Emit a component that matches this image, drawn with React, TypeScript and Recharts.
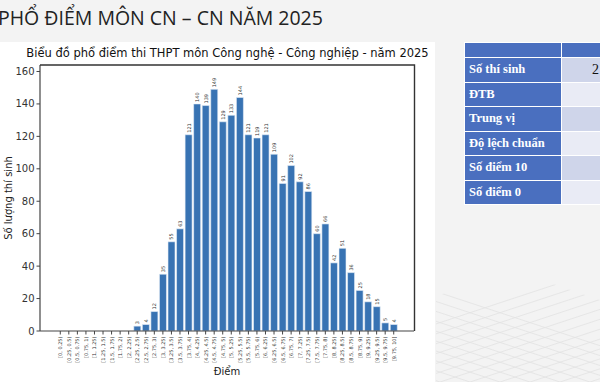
import React from 'react';
import { BarChart, Bar, XAxis, YAxis, LabelList } from 'recharts';

const binLabels = [
  '[0, 0.25)', '[0.25, 0.5)', '[0.5, 0.75)', '[0.75, 1)', '[1, 1.25)', '[1.25, 1.5)', '[1.5, 1.75)', '[1.75, 2)',
  '[2, 2.25)', '[2.25, 2.5)', '[2.5, 2.75)', '[2.75, 3)', '[3, 3.25)', '[3.25, 3.5)', '[3.5, 3.75)', '[3.75, 4)',
  '[4, 4.25)', '[4.25, 4.5)', '[4.5, 4.75)', '[4.75, 5)', '[5, 5.25)', '[5.25, 5.5)', '[5.5, 5.75)', '[5.75, 6)',
  '[6, 6.25)', '[6.25, 6.5)', '[6.5, 6.75)', '[6.75, 7)', '[7, 7.25)', '[7.25, 7.5)', '[7.5, 7.75)', '[7.75, 8)',
  '[8, 8.25)', '[8.25, 8.5)', '[8.5, 8.75)', '[8.75, 9)', '[9, 9.25)', '[9.25, 9.5)', '[9.5, 9.75)', '[9.75, 10]',
];

const counts = [
  0, 0, 0, 0, 0, 0, 0, 0,
  0, 3, 4, 12, 35, 55, 63, 121,
  140, 139, 149, 129, 133, 144, 121, 119,
  121, 109, 91, 102, 92, 86, 60, 66,
  42, 51, 36, 25, 18, 15, 5, 4,
];

const yTicks = [0, 20, 40, 60, 80, 100, 120, 140, 160];

const tableRows = ['Số thí sinh', 'ĐTB', 'Trung vị', 'Độ lệch chuẩn', 'Số điểm 10', 'Số điểm 0'];
const tableValues = ['2', '', '', '', '', ''];

const pageTitle = 'PHỔ ĐIỂM MÔN CN – CN NĂM 2025';
const chartTitle = 'Biểu đồ phổ điểm thi THPT môn Công nghệ - Công nghiệp - năm 2025';
const xLabel = 'Điểm';
const yLabel = 'Số lượng thí sinh';

const data = binLabels.map((b, i) => ({ bin: b, count: counts[i] }));

const FONT = '"DejaVu Sans", sans-serif';

const XTick = (props: any) => {
  const { x, y, payload } = props;
  return (
    <text
      x={x}
      y={y}
      transform={`rotate(-90, ${x}, ${y})`}
      textAnchor="end"
      dominantBaseline="central"
      fontSize={5}
      fontFamily={FONT}
      fill="#333"
    >
      {payload.value}
    </text>
  );
};

const ValueLabel = (props: any) => {
  const { x, y, width, value } = props;
  const cx = x + width / 2;
  const cy = y - 2;
  return (
    <text
      x={cx}
      y={cy}
      transform={`rotate(-90, ${cx}, ${cy})`}
      textAnchor="start"
      dominantBaseline="central"
      fontSize={5}
      fontFamily={FONT}
      fill="#333"
    >
      {value}
    </text>
  );
};

const YLabel = (props: any) => {
  const vb = props.viewBox || {};
  const cx = 8;
  const cy = vb.y + vb.height / 2;
  return (
    <text
      x={cx}
      y={cy}
      transform={`rotate(-90, ${cx}, ${cy})`}
      textAnchor="middle"
      dominantBaseline="central"
      fontSize={10}
      fontFamily={FONT}
      fill="#222"
    >
      {yLabel}
    </text>
  );
};

const XLabel = (props: any) => {
  const vb = props.viewBox || {};
  const cx = vb.x + vb.width / 2;
  const cy = vb.y + 40;
  return (
    <text x={cx} y={cy} textAnchor="middle" dominantBaseline="central" fontSize={10} fontFamily={FONT} fill="#222">
      {xLabel}
    </text>
  );
};

const gridLines: Array<[number, number, number, number]> = [];
for (let k = -6; k < 8; k++) {
  const x0 = 440 + k * 30;
  gridLines.push([x0, 382, x0 + 300, 382 - 300 * 0.33]);
  gridLines.push([x0 + 60, 382, x0 + 60 - 300, 382 - 300 * 0.33]);
}

export default function App() {
  return (
    <div
      style={{
        position: 'fixed',
        left: 0,
        top: 0,
        width: 600,
        height: 382,
        background: '#f3f3f3',
        overflow: 'hidden',
        fontFamily: FONT,
      }}
    >
      <svg style={{ position: 'absolute', left: 0, top: 0 }} width={600} height={382}>
        <defs>
          <clipPath id="gclip">
            <polygon points="436,382 436,296 515,271 600,300 600,382" />
          </clipPath>
        </defs>
        <g clipPath="url(#gclip)" stroke="#e2e2e2" strokeWidth={0.8}>
          {gridLines.map((l, i) => (
            <line key={i} x1={l[0]} y1={l[1]} x2={l[2]} y2={l[3]} />
          ))}
        </g>
      </svg>
      <div
        style={{
          position: 'absolute',
          left: -2,
          top: 2,
          fontFamily: '"Open Sans", sans-serif',
          fontSize: 19.5,
          color: '#222',
          whiteSpace: 'nowrap',
          lineHeight: '32px',
        }}
      >
        {pageTitle}
      </div>
      <div style={{ position: 'absolute', left: 0, top: 42, width: 435, height: 340, background: '#ffffff' }}>
        <div
          style={{
            position: 'absolute',
            left: 0,
            width: 455,
            top: 4,
            textAlign: 'center',
            fontSize: 11.5,
            fontFamily: FONT,
            color: '#111',
            whiteSpace: 'nowrap',
          }}
        >
          {chartTitle}
        </div>
        <BarChart
          width={435}
          height={340}
          data={data}
          margin={{ top: 23, right: 21, left: 0, bottom: 0 }}
          barCategoryGap="10%"
        >
          <XAxis
            dataKey="bin"
            interval={0}
            height={51}
            tick={<XTick />}
            tickSize={3.5}
            tickMargin={2}
            tickLine={{ stroke: '#444' }}
            axisLine={{ stroke: '#444', strokeWidth: 1.2 }}
            padding={{ left: 16, right: 16 }}
            label={<XLabel />}
          />
          <YAxis
            width={40}
            domain={[0, 164]}
            ticks={yTicks}
            allowDataOverflow
            tickSize={3.5}
            tickMargin={2}
            tick={{ fontSize: 10, fill: '#333', fontFamily: FONT }}
            tickLine={{ stroke: '#444' }}
            axisLine={{ stroke: '#444', strokeWidth: 1.2 }}
            label={<YLabel />}
          />
          <Bar dataKey="count" fill="#3873b3" stroke="#e8f0f8" strokeWidth={0.6} isAnimationActive={false}>
            <LabelList dataKey="count" content={<ValueLabel />} />
          </Bar>
        </BarChart>
      </div>
      <svg
        style={{ position: 'absolute', left: 0, top: 0, pointerEvents: 'none', zIndex: 10 }}
        width={600}
        height={382}
      >
        <polyline points="40,65 414.5,65 414.5,331" fill="none" stroke="#333" strokeWidth={1.4} />
      </svg>
      <table
        style={{
          position: 'absolute',
          left: 464,
          top: 42,
          width: 204,
          borderCollapse: 'collapse',
          fontFamily: '"Liberation Serif", "Times New Roman", serif',
          fontWeight: 'bold',
          fontSize: 12.5,
          tableLayout: 'fixed',
        }}
      >
        <colgroup>
          <col style={{ width: 97 }} />
          <col style={{ width: 107 }} />
        </colgroup>
        <tbody>
          <tr style={{ height: 15 }}>
            <td style={{ background: '#4a6fbf', border: '1.5px solid #fff', padding: 0 }} />
            <td style={{ background: '#4a6fbf', border: '1.5px solid #fff', padding: 0 }} />
          </tr>
          {tableRows.map((r, i) => (
            <tr key={r} style={{ height: 24.5 }}>
              <td
                style={{
                  background: '#4a6fbf',
                  color: '#fff',
                  border: '1.5px solid #fff',
                  padding: '0 0 0 4px',
                  whiteSpace: 'nowrap',
                  overflow: 'hidden',
                }}
              >
                {r}
              </td>
              <td
                style={{
                  background: i % 2 === 0 ? '#cfd5ea' : '#e9ebf5',
                  color: '#111',
                  border: '1.5px solid #fff',
                  padding: '0 0 0 30px',
                  fontWeight: 'normal',
                  fontSize: 14,
                  whiteSpace: 'nowrap',
                }}
              >
                {tableValues[i]}
              </td>
            </tr>
          ))}
        </tbody>
      </table>
    </div>
  );
}
